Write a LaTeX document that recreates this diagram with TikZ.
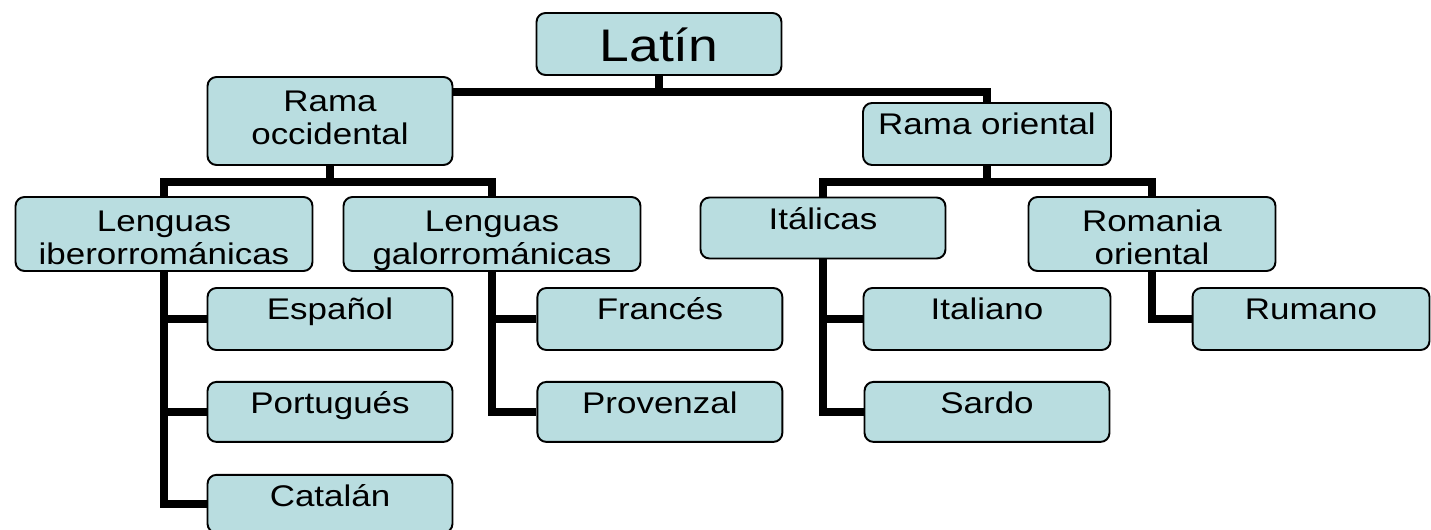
\documentclass[tikz,border=0pt]{standalone}
\usepackage{fontspec}
\setmainfont{Liberation Sans}[FakeStretch=1.17]
\usepackage{tikz}
\usetikzlibrary{positioning}
\definecolor{boxfill}{RGB}{185,221,224}

\begin{document}
\begin{tikzpicture}[x=0.02cm,y=-0.02cm,line join=miter]
 \tikzstyle{lang}=[draw=black, line width=1.1pt, fill=boxfill, rounded corners=0.18cm,
                   align=center, inner xsep=0pt, inner ysep=0pt,
                   minimum width=4.9cm, minimum height=1.24cm,
                   text height=0.64cm, text depth=0.6cm,
                   font=\fontsize{17}{18.8}\selectfont]
 \tikzstyle{twoline}=[minimum height=1.48cm, text height=1.36cm, text depth=0.12cm]
 \tikzstyle{link}=[line width=0.16cm, black]
 \useasboundingbox (0,0) rectangle (1431,530);
 % top levels
 \node[lang] (Lat) at (659,44) [text height=0.97cm, text depth=0.27cm,
     font=\fontsize{26}{28}\selectfont] {Latín};
 \node[lang] (Occ) at (330,121) [minimum height=1.76cm, text height=1.36cm, text depth=0.4cm] {Rama\\occidental};
 \node[lang] (Ori) at (987,134) [minimum width=4.96cm] {Rama oriental};
 % second level
 \node[lang,twoline] (Ibe) at (164,234) [minimum width=5.94cm] {Lenguas\\iberorrománicas};
 \node[lang,twoline] (Gal) at (492,234) [minimum width=5.94cm] {Lenguas\\galorrománicas};
 \node[lang] (Ita) at (823,228) [minimum height=1.22cm, text depth=0.58cm] {Itálicas};
 \node[lang,twoline] (Rom) at (1152,234) [minimum width=4.94cm] {Romania\\oriental};
 % languages
 \node[lang] (Esp) at (330,319) {Español};
 \node[lang] (Por) [below=0.6cm of Esp, minimum height=1.2cm, text depth=0.56cm] {Portugués};
 \node[lang] (Cat) [below=0.62cm of Por, minimum height=1.16cm, text depth=0.52cm] {Catalán};
 \node[lang] (Fra) [right=1.66cm of Esp] {Francés};
 \node[lang] (Pro) [below=0.6cm of Fra, minimum height=1.2cm, text depth=0.56cm] {Provenzal};
 \node[lang] (Itn) at (987,319) [minimum width=4.94cm] {Italiano};
 \node[lang] (Sar) [below=0.6cm of Itn, minimum height=1.2cm, text depth=0.56cm] {Sardo};
 \node[lang] (Rum) at (1311,319) [minimum width=4.74cm] {Rumano};
 % connectors
 \draw[link] (Lat.south) -- ++(0,16) coordinate (j1);
 \draw[link] (Occ.east |- j1) -| (Ori.north);
 \draw[link] (Occ.south) -- ++(0,16) coordinate (j2);
 \draw[link] (Ibe.north) |- (j2) -| (Gal.north);
 \draw[link] (Ori.south) -- ++(0,16) coordinate (j3);
 \draw[link] (Ita.north) |- (j3) -| (Rom.north);
 \draw[link] (Ibe.south) |- (Cat.west);
 \draw[link] (Esp.west) -- (Esp.west -| Ibe.south);
 \draw[link] (Por.west) -- (Por.west -| Ibe.south);
 \draw[link] (Gal.south) |- (Pro.west);
 \draw[link] (Fra.west) -- (Fra.west -| Gal.south);
 \draw[link] (Ita.south) |- (Sar.west);
 \draw[link] (Itn.west) -- (Itn.west -| Ita.south);
 \draw[link] (Rom.south) |- (Rum.west);
\end{tikzpicture}
\end{document}
